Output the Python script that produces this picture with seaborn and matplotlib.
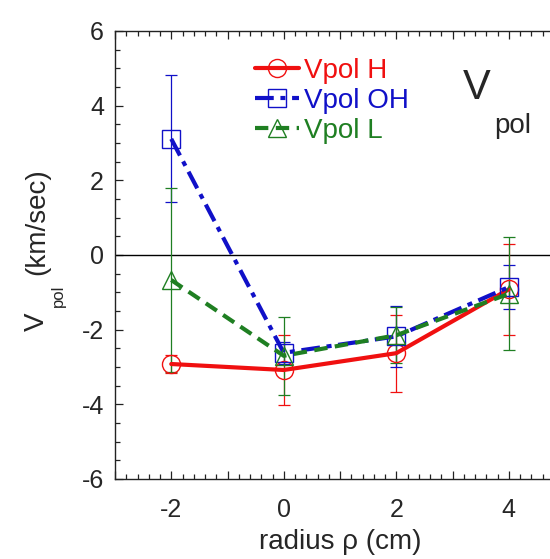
import matplotlib
matplotlib.use("Agg")
import matplotlib.pyplot as plt
import numpy as np
import pandas as pd
import seaborn as sns
from matplotlib.ticker import MultipleLocator, FuncFormatter

# ---- data ----
radius = [-2, 0, 2, 4]
vpol_h = [-2.92, -3.08, -2.63, -0.92]
err_h = [0.25, 0.95, 1.03, 1.22]
vpol_oh = [3.11, -2.62, -2.18, -0.86]
err_oh = [1.70, 0.30, 0.82, 0.59]
vpol_l = [-0.67, -2.70, -2.15, -1.04]
err_l = [2.47, 1.05, 0.75, 1.51]
series_labels = ["Vpol H", "Vpol OH", "Vpol L"]
x_ticks = [-2, 0, 2, 4]
y_ticks = [-6, -4, -2, 0, 2, 4, 6]

sns.set_style("ticks")
plt.rcParams["font.family"] = ["Liberation Sans", "DejaVu Sans"]

W, H = 550, 559
fig = plt.figure(figsize=(W / 100, H / 100), dpi=100)
ax = fig.add_axes([115 / W, 80 / H, 450 / W, 448 / H])

colors = ["#f01010", "#1010c8", "#1f7f22"]
markers = ["o", "s", "^"]
styles = ["-", (0, (4.5, 1.6, 1.2, 1.6)), (0, (3.2, 1.8))]
values = [vpol_h, vpol_oh, vpol_l]
errors = [err_h, err_oh, err_l]
msizes = [13, 13, 13]

# error bars
for vals, errs, col in zip(values, errors, colors):
    ax.errorbar(radius, vals, yerr=errs, fmt="none", ecolor=col,
                elinewidth=0.9, capsize=4, capthick=0.9, zorder=2)

# lines + markers via seaborn
for vals, lab, col, mk, ls, ms in zip(values, series_labels, colors, markers, styles, msizes):
    df = pd.DataFrame({"radius": radius, "Vpol": vals})
    sns.lineplot(data=df, x="radius", y="Vpol", ax=ax, color=col, marker=mk,
                 linestyle=ls, linewidth=3.0, markersize=ms, mfc="none",
                 mec=col, mew=1.0, label=lab, errorbar=None, zorder=3)

ax.axhline(0, color="black", lw=1.0, zorder=1)

ax.set_xlim(-3, 5)
ax.set_ylim(-6, 6)
ax.xaxis.set_major_locator(MultipleLocator(1))
ax.xaxis.set_minor_locator(MultipleLocator(0.2))
ax.xaxis.set_major_formatter(FuncFormatter(
    lambda v, p: f"{int(round(v))}" if int(round(v)) in x_ticks else ""))
ax.set_yticks(y_ticks)
ax.yaxis.set_minor_locator(MultipleLocator(0.5))
ax.yaxis.set_major_formatter(FuncFormatter(lambda v, p: f"{int(round(v))}"))

ax.tick_params(which="both", direction="in", top=True, right=True, width=0.9,
               color="#222222")
ax.tick_params(which="major", length=6, labelsize=18)
ax.tick_params(which="minor", length=3.5)
ax.tick_params(axis="x", which="major", pad=14)
ax.tick_params(axis="y", which="major", pad=8)
for s in ax.spines.values():
    s.set_linewidth(1.0)
    s.set_color("#222222")

ax.set_xlabel("radius ρ (cm)", fontsize=20, labelpad=5)
ax.set_ylabel("")

# y label built from pieces (V with a low subscript)
fig.text(37 / W, 1 - 322 / H, "V", rotation=90, fontsize=20, ha="center", va="center")
fig.text(58 / W, 1 - 296 / H, "pol", rotation=90, fontsize=12, ha="center", va="center")
fig.text(37 / W, 1 - 222 / H, "(km/sec)", rotation=90, fontsize=20, ha="center", va="center")

# in-plot annotation
fig.text(477 / W, 1 - 88 / H, "V", fontsize=30, ha="center", va="center")
fig.text(513 / W, 1 - 126 / H, "pol", fontsize=20, ha="center", va="center")

leg = ax.legend(loc="upper left", bbox_to_anchor=(0.31, 0.94), frameon=False,
                fontsize=20, labelcolor="linecolor", handlelength=1.6,
                handletextpad=0.2, labelspacing=0.15, borderpad=0, borderaxespad=0)

fig.savefig("out.png", dpi=100)
